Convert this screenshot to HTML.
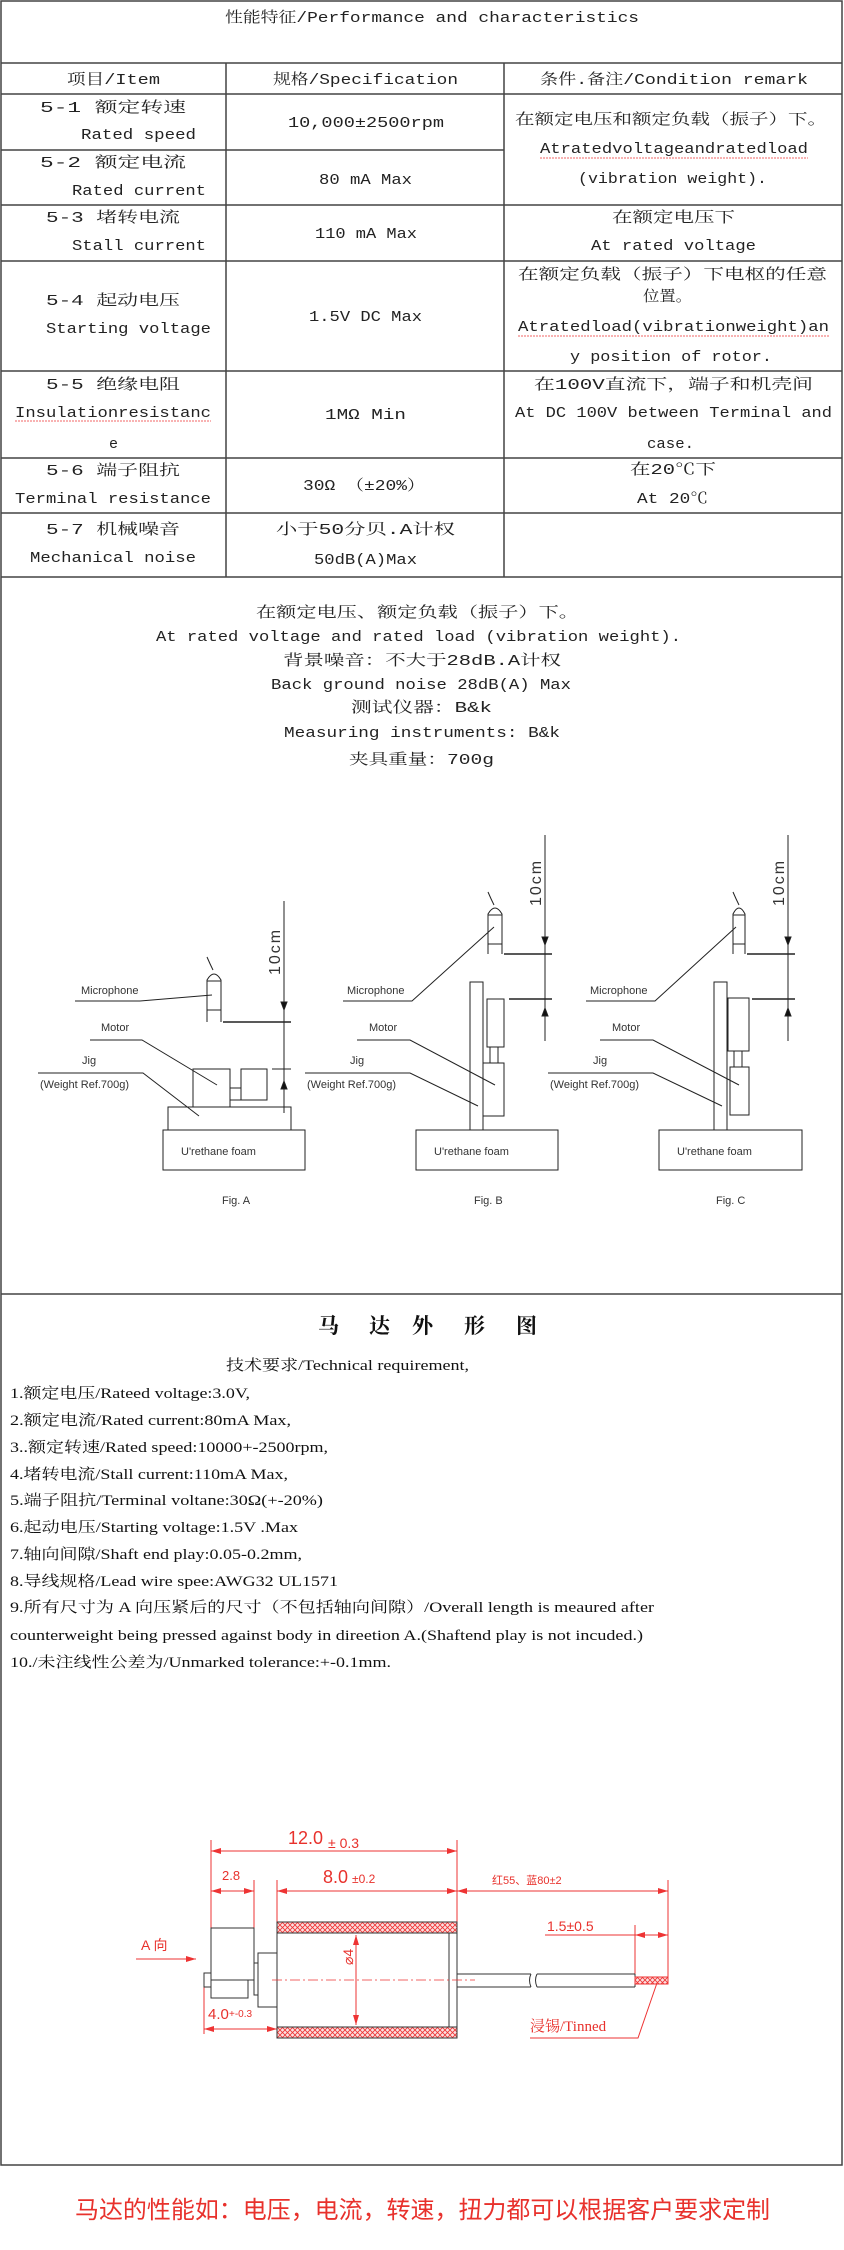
<!DOCTYPE html>
<html><head><meta charset="utf-8"><style>
html,body{margin:0;padding:0;background:#fff;}
svg{display:block;}
.t{font-family:"Liberation Mono","Noto Serif CJK SC",monospace;fill:#222;font-size:15px;}
.s{font-family:"Liberation Serif","Noto Serif CJK SC",serif;fill:#111;font-size:15px;}
.f{font-family:"Liberation Sans",sans-serif;fill:#333;font-size:11px;}
.r{font-family:"Liberation Sans","Noto Sans CJK SC",sans-serif;fill:#e8312c;}
</style></head><body>
<svg width="844" height="2250" viewBox="0 0 844 2250" xmlns="http://www.w3.org/2000/svg">
<defs>
<pattern id="hx" width="5" height="5" patternUnits="userSpaceOnUse">
<rect width="5" height="5" fill="#fbe0e0"/>
<path d="M0 0L5 5M5 0L0 5" stroke="#e33" stroke-width="0.8"/>
</pattern>
<marker id="ar" viewBox="0 0 10 6" refX="10" refY="3" markerWidth="10" markerHeight="6" orient="auto-start-reverse" markerUnits="userSpaceOnUse"><path d="M0 0L10 3L0 6z" fill="#e33"/></marker>
<marker id="ak" viewBox="0 0 6 12" refX="3" refY="12" markerWidth="6" markerHeight="12" orient="0" markerUnits="userSpaceOnUse"><path d="M0 0L6 0L3 12z" fill="#111"/></marker>
</defs>

<!-- outer frame -->
<g stroke="#444" fill="none" stroke-width="1.5">
<rect x="1" y="1" width="841" height="2164"/>
<line x1="1" y1="63" x2="842" y2="63"/>
<line x1="1" y1="94" x2="842" y2="94"/>
<line x1="1" y1="150" x2="226" y2="150"/>
<line x1="226" y1="150" x2="504" y2="150"/>
<line x1="1" y1="205" x2="842" y2="205"/>
<line x1="1" y1="261" x2="842" y2="261"/>
<line x1="1" y1="371" x2="842" y2="371"/>
<line x1="1" y1="458" x2="842" y2="458"/>
<line x1="1" y1="513" x2="842" y2="513"/>
<line x1="1" y1="577" x2="842" y2="577"/>
<line x1="226" y1="63" x2="226" y2="577"/>
<line x1="504" y1="63" x2="504" y2="577"/>
<line x1="1" y1="1294" x2="842" y2="1294"/>
</g>

<!-- table text -->
<g class="t">
<text x="225" y="22" textLength="414" lengthAdjust="spacingAndGlyphs">性能特征/Performance and characteristics</text>
<text x="67" y="84" textLength="93" lengthAdjust="spacingAndGlyphs">项目/Item</text>
<text x="273" y="84" textLength="185" lengthAdjust="spacingAndGlyphs">规格/Specification</text>
<text x="540" y="84" textLength="268" lengthAdjust="spacingAndGlyphs">条件.备注/Condition remark</text>

<text x="40" y="112" textLength="146" lengthAdjust="spacingAndGlyphs">5-1   额定转速</text>
<text x="81" y="139" textLength="115" lengthAdjust="spacingAndGlyphs">Rated speed</text>
<text x="288" y="127" textLength="156" lengthAdjust="spacingAndGlyphs">10,000±2500rpm</text>
<text x="515" y="124" textLength="312" lengthAdjust="spacingAndGlyphs">在额定电压和额定负载（振子）下。</text>
<text x="540" y="153" textLength="268" lengthAdjust="spacingAndGlyphs">Atratedvoltageandratedload</text>
<text x="578" y="183" textLength="189" lengthAdjust="spacingAndGlyphs">(vibration weight).</text>

<text x="40" y="167" textLength="146" lengthAdjust="spacingAndGlyphs">5-2   额定电流</text>
<text x="72" y="195" textLength="134" lengthAdjust="spacingAndGlyphs">Rated current</text>
<text x="319" y="184" textLength="93" lengthAdjust="spacingAndGlyphs">80 mA Max</text>

<text x="46" y="222" textLength="134" lengthAdjust="spacingAndGlyphs">5-3  堵转电流</text>
<text x="72" y="250" textLength="134" lengthAdjust="spacingAndGlyphs">Stall current</text>
<text x="315" y="238" textLength="102" lengthAdjust="spacingAndGlyphs">110 mA Max</text>
<text x="612" y="222" textLength="123" lengthAdjust="spacingAndGlyphs">在额定电压下</text>
<text x="591" y="250" textLength="165" lengthAdjust="spacingAndGlyphs">At rated voltage</text>

<text x="46" y="305" textLength="134" lengthAdjust="spacingAndGlyphs">5-4  起动电压</text>
<text x="46" y="333" textLength="165" lengthAdjust="spacingAndGlyphs">Starting voltage</text>
<text x="309" y="321" textLength="113" lengthAdjust="spacingAndGlyphs">1.5V DC Max</text>
<text x="518" y="279" textLength="309" lengthAdjust="spacingAndGlyphs">在额定负载（振子）下电枢的任意</text>
<text x="643" y="301" textLength="49" lengthAdjust="spacingAndGlyphs">位置。</text>
<text x="518" y="331" textLength="311" lengthAdjust="spacingAndGlyphs">Atratedload(vibrationweight)an</text>
<text x="570" y="361" textLength="202" lengthAdjust="spacingAndGlyphs">y position of rotor.</text>

<text x="46" y="389" textLength="134" lengthAdjust="spacingAndGlyphs">5-5  绝缘电阻</text>
<text x="15" y="417" textLength="196" lengthAdjust="spacingAndGlyphs">Insulationresistanc</text>
<text x="109" y="448">e</text>
<text x="325" y="419" textLength="81" lengthAdjust="spacingAndGlyphs">1MΩ  Min</text>
<text x="534" y="389" textLength="279" lengthAdjust="spacingAndGlyphs">在100V直流下，端子和机壳间</text>
<text x="515" y="417" textLength="317" lengthAdjust="spacingAndGlyphs">At DC 100V between Terminal and</text>
<text x="647" y="448" textLength="47" lengthAdjust="spacingAndGlyphs">case.</text>

<text x="46" y="475" textLength="134" lengthAdjust="spacingAndGlyphs">5-6  端子阻抗</text>
<text x="15" y="503" textLength="196" lengthAdjust="spacingAndGlyphs">Terminal resistance</text>
<text x="303" y="490" textLength="122" lengthAdjust="spacingAndGlyphs">30Ω （±20%）</text>
<text x="630" y="474" textLength="86" lengthAdjust="spacingAndGlyphs">在20℃下</text>
<text x="637" y="503" textLength="71" lengthAdjust="spacingAndGlyphs">At 20℃</text>

<text x="46" y="534" textLength="134" lengthAdjust="spacingAndGlyphs">5-7  机械噪音</text>
<text x="30" y="562" textLength="166" lengthAdjust="spacingAndGlyphs">Mechanical noise</text>
<text x="276" y="534" textLength="179" lengthAdjust="spacingAndGlyphs">小于50分贝.A计权</text>
<text x="314" y="564" textLength="103" lengthAdjust="spacingAndGlyphs">50dB(A)Max</text>
</g>
<g stroke="#e33" stroke-width="0.8" fill="none" stroke-dasharray="2 1">
<line x1="540" y1="158" x2="808" y2="158"/><line x1="518" y1="336" x2="829" y2="336"/><line x1="15" y1="421" x2="211" y2="421"/>
</g>

<!-- middle text -->
<g class="t">
<text x="256" y="617" textLength="323" lengthAdjust="spacingAndGlyphs">在额定电压、额定负载（振子）下。</text>
<text x="156" y="641" textLength="525" lengthAdjust="spacingAndGlyphs">At rated voltage and rated load (vibration weight).</text>
<text x="283" y="665" textLength="278" lengthAdjust="spacingAndGlyphs">背景噪音：不大于28dB.A计权</text>
<text x="271" y="689" textLength="300" lengthAdjust="spacingAndGlyphs">Back ground noise 28dB(A) Max</text>
<text x="351" y="712" textLength="141" lengthAdjust="spacingAndGlyphs">测试仪器：B&amp;k</text>
<text x="284" y="737" textLength="276" lengthAdjust="spacingAndGlyphs">Measuring instruments: B&amp;k</text>
<text x="349" y="764" textLength="145" lengthAdjust="spacingAndGlyphs">夹具重量：700g</text>
</g>

<!-- Fig A -->
<g stroke="#222" stroke-width="1" fill="none">
<rect x="163" y="1130" width="142" height="40"/>
<rect x="168" y="1107" width="123" height="23"/>
<rect x="193" y="1069" width="37" height="38"/>
<rect x="241" y="1069" width="26" height="31"/>
<rect x="230" y="1088" width="11" height="12"/>
<path d="M207 1022V980Q214 968 221 980V1022M207 981H221M207 1010H221"/>
<path d="M213 970Q210 964 207 957"/>
<line x1="223" y1="1022" x2="291" y2="1022" stroke-width="1.5"/>
<line x1="284" y1="901" x2="284" y2="1113"/>
<line x1="272" y1="1069" x2="291" y2="1069"/>
<line x1="75" y1="1001" x2="140" y2="1001"/><line x1="140" y1="1001" x2="212" y2="995"/>
<path d="M90 1040H142L217 1085"/>
<path d="M38 1073H143L199 1116"/>
<path d="M284 1010L281 1002H287Z M284 1081L281 1089H287Z" fill="#111"/>
</g>
<!-- Fig B -->
<g stroke="#222" stroke-width="1" fill="none">
<rect x="416" y="1130" width="142" height="40"/>
<rect x="470" y="982" width="13" height="148"/>
<rect x="487" y="999" width="17" height="48"/>
<rect x="483" y="1063" width="21" height="53"/>
<rect x="490" y="1047" width="8" height="16"/>
<path d="M488 954V914Q495 902 502 914V954M488 915H502M488 944H502"/>
<path d="M494 905Q491 899 488 892"/>
<line x1="504" y1="954" x2="552" y2="954" stroke-width="1.5"/>
<line x1="509" y1="999" x2="552" y2="999" stroke-width="1.5"/>
<line x1="545" y1="835" x2="545" y2="1041"/>
<path d="M545 945L542 937H548Z M545 1008L542 1016H548Z" fill="#111"/>
<path d="M343 1001H412L494 927"/>
<path d="M357 1040H410L495 1085"/>
<path d="M305 1073H410L478 1106"/>
</g>
<!-- Fig C -->
<g stroke="#222" stroke-width="1" fill="none">
<rect x="659" y="1130" width="143" height="40"/>
<rect x="714" y="982" width="13" height="148"/>
<rect x="728" y="998" width="21" height="53"/>
<rect x="730" y="1067" width="19" height="48"/>
<rect x="734" y="1051" width="8" height="16"/>
<path d="M733 954V914Q739 902 745 914V954M733 915H745M733 944H745"/>
<path d="M739 905Q736 899 733 892"/>
<line x1="747" y1="954" x2="795" y2="954" stroke-width="1.5"/>
<line x1="752" y1="999" x2="795" y2="999" stroke-width="1.5"/>
<line x1="788" y1="835" x2="788" y2="1041"/>
<path d="M788 945L785 937H791Z M788 1008L785 1016H791Z" fill="#111"/>
<path d="M586 1001H655L736 927"/>
<path d="M600 1040H653L739 1085"/>
<path d="M548 1073H653L722 1106"/>
</g>
<g class="f">
<text x="81" y="994">Microphone</text><text x="101" y="1031">Motor</text><text x="82" y="1064">Jig</text><text x="40" y="1088">(Weight Ref.700g)</text>
<text x="181" y="1155">U'rethane foam</text><text x="222" y="1204">Fig. A</text>
<text x="347" y="994">Microphone</text><text x="369" y="1031">Motor</text><text x="350" y="1064">Jig</text><text x="307" y="1088">(Weight Ref.700g)</text>
<text x="434" y="1155">U'rethane foam</text><text x="474" y="1204">Fig. B</text>
<text x="590" y="994">Microphone</text><text x="612" y="1031">Motor</text><text x="593" y="1064">Jig</text><text x="550" y="1088">(Weight Ref.700g)</text>
<text x="677" y="1155">U'rethane foam</text><text x="716" y="1204">Fig. C</text>
<text transform="translate(280,975) rotate(-90)" font-size="16" letter-spacing="2">10cm</text>
<text transform="translate(541,906) rotate(-90)" font-size="16" letter-spacing="2">10cm</text>
<text transform="translate(784,906) rotate(-90)" font-size="16" letter-spacing="2">10cm</text>
</g>

<!-- Lower section -->
<g class="s">
<text x="318" y="1333" font-size="21" font-weight="bold">马</text>
<text x="369" y="1333" font-size="21" font-weight="bold">达</text>
<text x="412" y="1333" font-size="21" font-weight="bold">外</text>
<text x="464" y="1333" font-size="21" font-weight="bold">形</text>
<text x="516" y="1333" font-size="21" font-weight="bold">图</text>
<text x="226" y="1370" textLength="243" lengthAdjust="spacingAndGlyphs">技术要求/Technical requirement,</text>
<text x="10" y="1398" textLength="240" lengthAdjust="spacingAndGlyphs">1.额定电压/Rateed voltage:3.0V,</text>
<text x="10" y="1425" textLength="281" lengthAdjust="spacingAndGlyphs">2.额定电流/Rated current:80mA Max,</text>
<text x="10" y="1452" textLength="318" lengthAdjust="spacingAndGlyphs">3..额定转速/Rated speed:10000+-2500rpm,</text>
<text x="10" y="1479" textLength="278" lengthAdjust="spacingAndGlyphs">4.堵转电流/Stall current:110mA Max,</text>
<text x="10" y="1505" textLength="313" lengthAdjust="spacingAndGlyphs">5.端子阻抗/Terminal voltane:30Ω(+-20%)</text>
<text x="10" y="1532" textLength="288" lengthAdjust="spacingAndGlyphs">6.起动电压/Starting voltage:1.5V .Max</text>
<text x="10" y="1559" textLength="292" lengthAdjust="spacingAndGlyphs">7.轴向间隙/Shaft end play:0.05-0.2mm,</text>
<text x="10" y="1586" textLength="328" lengthAdjust="spacingAndGlyphs">8.导线规格/Lead wire spee:AWG32 UL1571</text>
<text x="10" y="1612" textLength="644" lengthAdjust="spacingAndGlyphs">9.所有尺寸为 A 向压紧后的尺寸（不包括轴向间隙）/Overall length is meaured after</text>
<text x="10" y="1640" textLength="633" lengthAdjust="spacingAndGlyphs">counterweight being pressed against body in direetion A.(Shaftend play is not incuded.)</text>
<text x="10" y="1667" textLength="381" lengthAdjust="spacingAndGlyphs">10./未注线性公差为/Unmarked tolerance:+-0.1mm.</text>
</g>

<!-- motor drawing -->
<g stroke="#e33" stroke-width="1" fill="none">
<line x1="211" y1="1840" x2="211" y2="1928"/>
<line x1="457" y1="1840" x2="457" y2="1922"/>
<line x1="254" y1="1880" x2="254" y2="1928"/>
<line x1="277" y1="1880" x2="277" y2="1922"/>
<line x1="668" y1="1880" x2="668" y2="1984"/>
<line x1="635" y1="1925" x2="635" y2="1987"/>
<line x1="204" y1="1987" x2="204" y2="2034"/>
<line x1="211" y1="1851" x2="457" y2="1851" marker-start="url(#ar)" marker-end="url(#ar)"/>
<line x1="211" y1="1891" x2="254" y2="1891" marker-start="url(#ar)" marker-end="url(#ar)"/>
<line x1="277" y1="1891" x2="457" y2="1891" marker-start="url(#ar)" marker-end="url(#ar)"/>
<line x1="457" y1="1891" x2="668" y2="1891" marker-start="url(#ar)" marker-end="url(#ar)"/>
<line x1="545" y1="1935" x2="635" y2="1935"/>
<line x1="635" y1="1935" x2="668" y2="1935" marker-start="url(#ar)" marker-end="url(#ar)"/>
<line x1="356" y1="1935" x2="356" y2="2025" marker-start="url(#ar)" marker-end="url(#ar)"/>
<line x1="204" y1="2029" x2="277" y2="2029" marker-start="url(#ar)" marker-end="url(#ar)"/>
<line x1="136" y1="1959" x2="196" y2="1959" marker-end="url(#ar)"/>
<path d="M530 2038H638L658 1980"/>
</g>
<rect x="277" y="1922" width="180" height="11" fill="url(#hx)" stroke="#333" stroke-width="1"/>
<rect x="277" y="2027" width="180" height="11" fill="url(#hx)" stroke="#333" stroke-width="1"/>
<g stroke="#333" stroke-width="1" fill="none">
<line x1="277" y1="1933" x2="277" y2="2027"/>
<line x1="457" y1="1933" x2="457" y2="2027"/>
<line x1="449" y1="1933" x2="449" y2="2027"/>
<rect x="211" y="1928" width="43" height="52"/>
<rect x="211" y="1980" width="37" height="18"/>
<rect x="204" y="1973" width="7" height="14"/>
<rect x="254" y="1963" width="4" height="32"/>
<rect x="258" y="1953" width="19" height="54"/>
<path d="M457 1974H531M457 1987H531M537 1974H635M537 1987H635M635 1974V1987M531 1974Q528 1980 531 1987M537 1974Q534 1980 537 1987"/>
</g>
<rect x="635" y="1977" width="33" height="7" fill="url(#hx)" stroke="#e33" stroke-width="1"/>
<line x1="272" y1="1980" x2="475" y2="1980" stroke="#e33" stroke-width="0.8" stroke-dasharray="10 3 2 3"/>
<g class="r">
<text x="288" y="1844" font-size="18">12.0</text><text x="328" y="1848" font-size="14">± 0.3</text>
<text x="222" y="1880" font-size="13">2.8</text>
<text x="323" y="1883" font-size="18">8.0</text><text x="352" y="1883" font-size="12">±0.2</text>
<text x="492" y="1884" font-size="11">红55、蓝80±2</text>
<text x="547" y="1931" font-size="14">1.5±0.5</text>
<text x="141" y="1950" font-size="14">A 向</text>
<text x="208" y="2019" font-size="15">4.0</text><text x="229" y="2017" font-size="10">+-0.3</text>
<text x="530" y="2031" font-size="15" style="font-family:'Liberation Serif','Noto Serif CJK SC',serif">浸锡/Tinned</text>
<text transform="translate(353,1965) rotate(-90)" font-size="14">⌀4</text>
<text x="75" y="2218" font-size="24" textLength="695" lengthAdjust="spacingAndGlyphs">马达的性能如：电压，电流，转速，扭力都可以根据客户要求定制</text>
</g>
</svg>
</body></html>
